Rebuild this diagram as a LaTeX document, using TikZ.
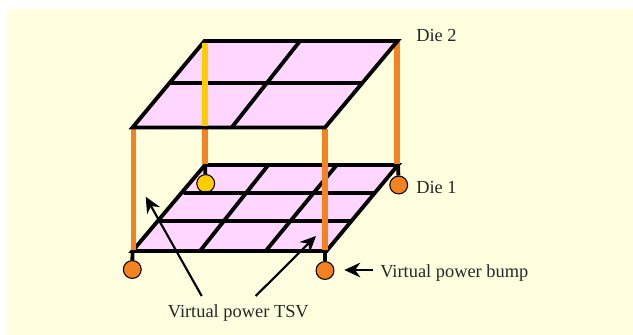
\documentclass[tikz,border=0pt]{standalone}
\usepackage{fontspec}
\setmainfont{Liberation Serif}
\usetikzlibrary{arrows.meta}
\definecolor{bgy}{HTML}{FFFFE0}
\definecolor{die}{HTML}{FFD6FF}
\definecolor{tsv}{HTML}{F58220}
\definecolor{ytsv}{HTML}{FFCC00}
\tikzset{x=0.75pt,y=-0.75pt,
 gridline/.style={line width=2.9pt,black,line cap=round,line join=miter},
 tsvline/.style={line width=4pt,tsv},
 bumpstem/.style={line width=2.9pt,black},
 bump/.style={circle,draw=black,line width=0.8pt,minimum size=13.4pt,inner sep=0pt,fill=tsv},
 callout/.style={line width=1.6pt,black,-{Stealth[length=12pt,width=11pt]}},
 lab/.style={font=\fontsize{13.8pt}{16pt}\selectfont,text=black!85,inner sep=0pt}}
\begin{document}
\begin{tikzpicture}
\useasboundingbox (0,0) rectangle (633,335);
\fill[white] (0,0) rectangle (633,335);
\fill[bgy] (7,9) rectangle (633,335);
% corner coordinates
\coordinate (dTL) at (205,165);\coordinate (dTR) at (398,165);
\coordinate (dBR) at (326.5,251);\coordinate (dBL) at (132.5,251);
\coordinate (uTL) at (204.5,41);\coordinate (uTR) at (397.5,41);
\coordinate (uBR) at (325,127.5);\coordinate (uBL) at (132.5,127.5);
% bumps
\node[bump] (b1) at (132.3,269.5) {};
\node[bump] (b2) at (325,270.5) {};
\node[bump] (b4) at (398.7,185) {};
\draw[bumpstem] (dBL) -- (b1);
\draw[bumpstem] (325,251) -- (b2);
\draw[bumpstem] (dTR) -- (b4);
% lower die
\fill[die] (dTL) -- (dTR) -- (dBR) -- (dBL) -- cycle;
\coordinate (h1a) at (185,193.3);\coordinate (h1b) at (373.3,193.3);
\coordinate (h2a) at (160,220.7);\coordinate (h2b) at (350,220.7);
\coordinate (v1a) at (268.3,165);\coordinate (v1b) at (200,251);
\coordinate (v2a) at (336.7,165);\coordinate (v2b) at (265.7,251);
\node[bump,fill=ytsv] (b3) at (205.7,183.5) {};
\draw[bumpstem] (dTL) -- (b3);
\draw[gridline] (dTL) -- (dTR) -- (dBR) -- (dBL) -- cycle;
\draw[gridline] (h1a) -- (h1b);
\draw[gridline] (h2a) -- (h2b);
\draw[gridline] (v1a) -- (v1b);
\draw[gridline] (v2a) -- (v2b);
% pillars
\draw[tsvline] (133.3,129) -- (133.3,250);
\draw[tsvline] (205,129) -- (205,164);
\draw[tsvline] (325,129) -- (325,250);
\draw[tsvline] (397,42) -- (397,164);
% upper die
\fill[die] (uTL) -- (uTR) -- (uBR) -- (uBL) -- cycle;
\coordinate (u1a) at (171.7,83.3);\coordinate (u1b) at (361.7,83.3);
\coordinate (u2a) at (300,41);\coordinate (u2b) at (231.7,127.5);
\draw[gridline] (u1a) -- (u1b);
\draw[gridline] (u2a) -- (u2b);
\draw[gridline] (uTL) -- (uTR) -- (uBR) -- (uBL) -- cycle;
\draw[line width=4pt,ytsv] (205,43) -- (205,126);
% labels
\node[lab,anchor=west] (d2) at (416,35) {Die 2};
\node[lab,anchor=west] (d1) at (416,187) {Die 1};
\node[lab,anchor=west] (vb) at (380,273) {Virtual power bump};
\node[lab] (vt) at (238.3,313) {Virtual power TSV};
\coordinate (t1) at (201.7,296);\coordinate (t2) at (255.7,296);
\coordinate (a1) at (145.7,196.7);\coordinate (a2) at (316,236);
\coordinate (t3) at (373.3,270);\coordinate (a3) at (344.3,270);
\draw[callout] (t1) -- (a1);
\draw[callout] (t2) -- (a2);
\draw[callout] (t3) -- (a3);
\end{tikzpicture}
\end{document}
